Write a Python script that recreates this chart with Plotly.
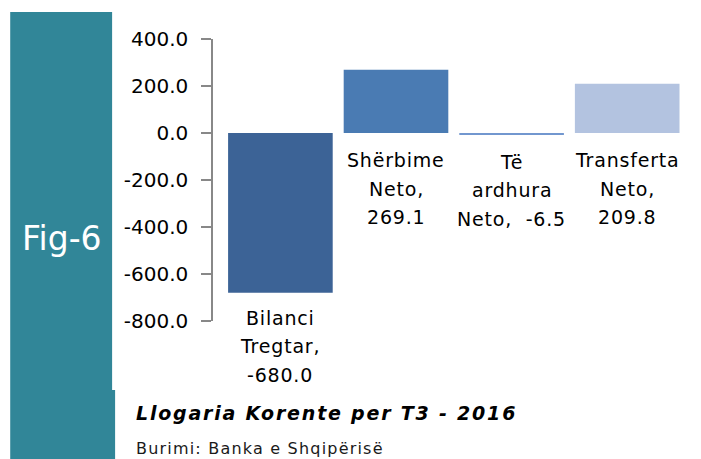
import plotly.graph_objects as go

categories = ["Bilanci Tregtar", "Shërbime Neto", "Të ardhura Neto", "Transferta Neto"]
values = [-680.0, 269.1, -6.5, 209.8]
label_lines = [
    ["Bilanci", "Tregtar,", "-680.0"],
    ["Shërbime", "Neto,", "269.1"],
    ["Të", "ardhura", "Neto,  -6.5"],
    ["Transferta", "Neto,", "209.8"],
]
bar_colors = ["#3C6396", "#4A7BB3", "#7297CF", "#B3C3E0"]
tick_vals = [400, 200, 0, -200, -400, -600, -800]
tick_text = ["400.0", "200.0", "0.0", "-200.0", "-400.0", "-600.0", "-800.0"]
fig_label = "Fig-6"
title_text = "Llogaria Korente per T3 - 2016"
source_text = "Burimi: Banka e Shqipërisë"

W, H = 701, 459
L, R, T, B = 213, 685.5, 39, 321
FONT = "DejaVu Sans"
TEAL = "#318698"


def px_x(p):
    return (p - L) / (R - L)


def px_y(p):
    return (B - p) / (B - T)


def spaced(text, sp):
    return '<span style="letter-spacing:%spx">%s</span>' % (sp, text)


xs = list(range(len(categories)))
fig = go.Figure(go.Bar(
    x=xs, y=values, marker=dict(color=bar_colors, line=dict(width=0)),
    width=0.905, hoverinfo="skip",
))

annotations = []
for i, (v, lines) in enumerate(zip(values, label_lines)):
    base = min(v, 0)
    first_shift = -27 if v > -50 else -25
    for j, line in enumerate(lines):
        annotations.append(dict(
            x=i, y=base, xref="x", yref="y", text=spaced(line, 0.8), showarrow=False,
            xanchor="center", yanchor="middle", yshift=first_shift - 28.5 * j,
            font=dict(family=FONT, size=19, color="#000000"),
        ))

annotations.append(dict(
    x=px_x(62), y=px_y(238), xref="paper", yref="paper", text=fig_label,
    showarrow=False, xanchor="center", yanchor="middle",
    font=dict(family=FONT, size=33, color="#FFFFFF"),
))
annotations.append(dict(
    x=px_x(134), y=px_y(413), xref="paper", yref="paper",
    text=spaced("<b><i>" + title_text + "</i></b>", 1.8),
    showarrow=False, xanchor="left", yanchor="middle",
    font=dict(family=FONT, size=19, color="#000000"),
))
annotations.append(dict(
    x=px_x(134), y=px_y(448), xref="paper", yref="paper", text=spaced(source_text, 1.2),
    showarrow=False, xanchor="left", yanchor="middle",
    font=dict(family=FONT, size=16, color="#1a1a1a"),
))

shapes = [
    dict(type="rect", xref="paper", yref="paper", x0=px_x(10), x1=px_x(112),
         y0=px_y(390), y1=px_y(12), fillcolor=TEAL, line=dict(width=0), layer="below"),
    dict(type="rect", xref="paper", yref="paper", x0=px_x(10), x1=px_x(115),
         y0=px_y(459), y1=px_y(390), fillcolor=TEAL, line=dict(width=0), layer="below"),
]

fig.update_layout(
    width=W, height=H,
    margin=dict(l=L, r=W - R, t=T, b=H - B, pad=0),
    paper_bgcolor="white", plot_bgcolor="white",
    showlegend=False, bargap=0.095,
    annotations=annotations, shapes=shapes,
    xaxis=dict(range=[-0.583, 3.5], showticklabels=False, showgrid=False,
               zeroline=False, showline=False, ticks="", fixedrange=True),
    yaxis=dict(range=[-800, 400], tickvals=tick_vals, ticktext=tick_text,
               showgrid=False, zeroline=False, showline=True, linecolor="#888888",
               linewidth=1.5, ticks="outside", ticklen=10, tickwidth=1.5,
               tickcolor="#888888", ticklabelstandoff=9,
               tickfont=dict(family=FONT, size=20, color="#000000"), fixedrange=True),
)

fig.write_html(
    "out.html",
    config={"displayModeBar": False},
    post_script="document.body.style.margin='0';document.body.style.overflow='hidden';",
)
